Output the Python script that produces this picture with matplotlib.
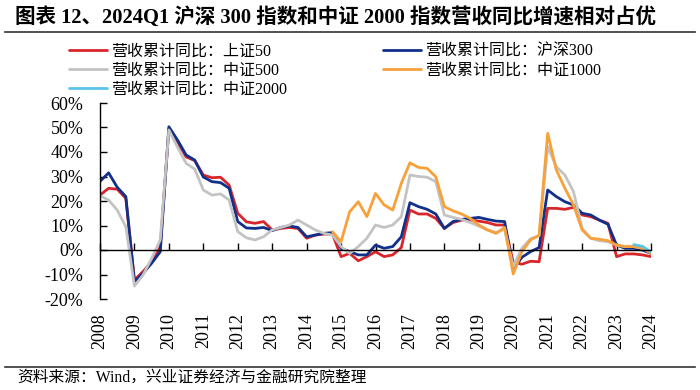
import numpy as np
import matplotlib
matplotlib.use("Agg")
import matplotlib.pyplot as plt

# quarterly cumulative revenue yoy (%), 2008Q1 .. 2024Q1
years = [str(y) for y in range(2008, 2025)]

sz50 = [22.4, 25.2, 24.8, 21.1, -12.2, -8.8, -4.8, 1.4,
        49.5, 44.0, 38.0, 36.5, 30.6, 29.5, 29.7, 26.5,
        15.0, 11.5, 10.9, 11.6, 8.2, 8.8, 9.2, 8.8,
        4.8, 6.1, 6.5, 6.5, -2.7, -1.4, -4.4, -2.7,
        -0.7, -2.7, -2.0, 1.0, 16.3, 14.7, 14.7, 12.9,
        8.8, 11.2, 12.2, 12.2, 11.8, 11.2, 10.2, 10.2,
        -5.0, -5.8, -4.6, -4.8, 17.0, 17.0, 16.6, 17.4,
        14.3, 13.6, 12.2, 10.9, -2.7, -1.6, -1.6, -2.0, -2.7]

hs300 = [28.0, 31.5, 25.6, 21.8, -13.0, -9.5, -5.4, -0.7,
         50.3, 44.9, 38.8, 36.7, 29.8, 27.9, 27.5, 25.2,
         11.6, 9.0, 8.8, 9.2, 7.9, 9.2, 9.8, 9.2,
         5.4, 6.1, 6.8, 7.1, 0.7, -0.7, -2.0, -2.0,
         2.0, 0.7, 1.4, 5.4, 19.3, 17.7, 16.6, 14.7,
         8.8, 11.6, 12.5, 12.9, 13.3, 12.5, 11.8, 11.6,
         -8.0, -3.0, -0.7, 1.0, 24.5, 21.8, 19.7, 18.4,
         15.0, 14.3, 12.2, 10.5, 2.0, 0.7, 0.7, 0.0, -1.4]

zz500 = [22.2, 20.4, 16.3, 9.5, -14.7, -10.2, -3.4, 4.1,
         49.0, 42.0, 35.4, 33.0, 24.5, 22.4, 22.9, 20.4,
         7.5, 5.0, 4.1, 5.4, 8.2, 9.2, 10.2, 12.2,
         10.2, 8.2, 6.8, 6.1, 1.4, -1.4, 1.4, 4.8,
         10.2, 9.2, 10.2, 13.6, 30.6, 30.0, 29.7, 27.9,
         14.3, 13.3, 12.5, 11.2, 9.8, 8.2, 7.1, 8.5,
         -6.8, 0.7, 4.6, 5.8, 42.2, 34.0, 30.6, 23.8,
         8.8, 4.8, 3.8, 3.4, 2.0, 1.4, 1.4, 0.7, -0.7]

zz1000 = [None] * 27 + [
    7.5, 3.4, 15.6, 19.7, 13.6,
    23.1, 18.4, 16.3, 27.2, 35.6, 33.7, 33.3, 29.9,
    17.7, 16.0, 14.7, 12.9, 10.2, 8.2, 6.8, 9.2,
    -9.8, -0.7, 4.1, 6.0, 47.6, 32.7, 25.2, 18.4,
    8.2, 4.8, 4.4, 3.8, 2.0, 1.4, 1.4, 0.7, -1.4]

zz2000 = [None] * 62 + [2.2, 1.5, -0.8]

names = ["营收累计同比：上证50", "营收累计同比：沪深300", "营收累计同比：中证500",
         "营收累计同比：中证1000", "营收累计同比：中证2000"]
colors = ["#D8262B", "#10308A", "#C3C3C3", "#F8A13A", "#5BC3EC"]

plt.rcParams['font.family'] = ['Liberation Serif', 'Noto Sans CJK SC']

fig = plt.figure(figsize=(7, 3.9), dpi=100)
ax = fig.add_axes([100 / 700, 91 / 390, 551 / 700, 196 / 390])

x = np.arange(len(hs300))
series = [sz50, hs300, zz500, zz1000, zz2000]
lines = []
for s, c, n in zip(series, colors, names):
    y = np.array([np.nan if v is None else v for v in s], dtype=float)
    ln, = ax.plot(x, y, color=c, lw=2.0, label=n, solid_joinstyle='round',
                  solid_capstyle='round')
    lines.append(ln)

ax.set_xlim(0, 64)
ax.set_ylim(-20, 60)
ax.set_yticks(range(-20, 61, 10))
ax.set_yticklabels(["%d%%" % v for v in range(-20, 61, 10)])

ax.spines['top'].set_visible(False)
ax.spines['right'].set_visible(False)
ax.spines['bottom'].set_position(('data', 0))
ax.spines['left'].set_linewidth(1.0)
ax.spines['bottom'].set_linewidth(1.0)

ax.set_xticks(range(0, 65, 4))
ax.set_xticklabels([])
ax.tick_params(axis='x', direction='in', length=5, width=1.0)
ax.tick_params(axis='y', direction='in', length=5, width=1.0, pad=12,
               labelsize=13)

# year labels below the plot area
sec = ax.secondary_xaxis(0.0)
sec.set_xticks(range(0, 65, 4))
sec.set_xticklabels(years, rotation=90, fontsize=13)
sec.tick_params(length=0, pad=10)
sec.spines['bottom'].set_visible(False)

# legend: two columns
order = [0, 2, 4, 1, 3]
fig.legend([lines[i] for i in order], [names[i] for i in order],
           loc='upper left', bbox_to_anchor=(69 / 700, 1 - 44 / 390),
           ncol=2, frameon=False, fontsize=11.5, handlelength=2.4,
           handletextpad=0.25, columnspacing=6.0, labelspacing=0.18,
           borderpad=0, borderaxespad=0)

fig.text(15 / 700, 1 - 18 / 390,
         "图表 12、2024Q1 沪深 300 指数和中证 2000 指数营收同比增速相对占优",
         fontsize=14.8, fontweight='bold', va='center', ha='left')
fig.add_artist(plt.Line2D([5 / 700, 695 / 700], [1 - 32 / 390, 1 - 32 / 390],
                          color='#333333', lw=1.2))
fig.add_artist(plt.Line2D([5 / 700, 695 / 700], [1 - 367 / 390, 1 - 367 / 390],
                          color='#333333', lw=1.2))
fig.text(17 / 700, 1 - 378 / 390, "资料来源：Wind，兴业证券经济与金融研究院整理",
         fontsize=11.3, va='center', ha='left')

fig.savefig("out.png", dpi=100)
